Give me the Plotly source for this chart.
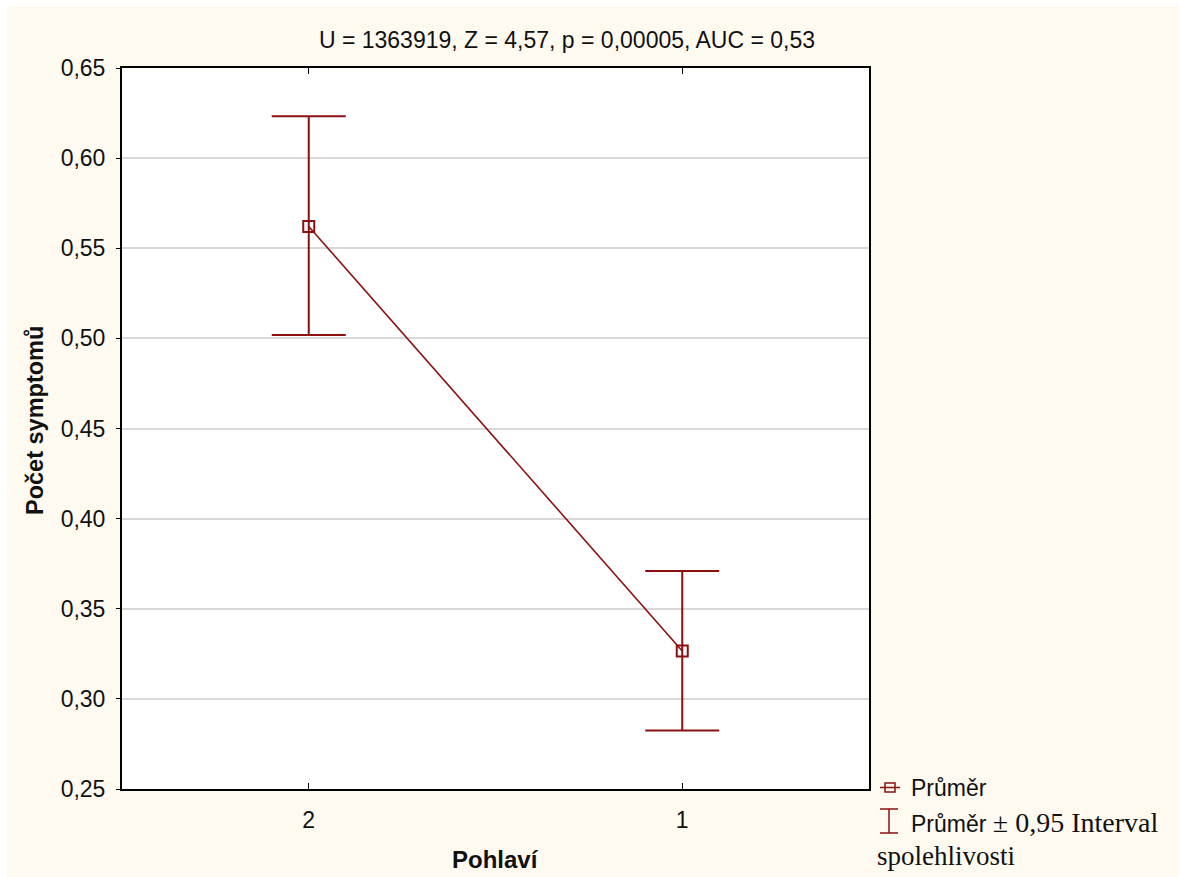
import plotly.graph_objects as go

# Mean symptom count by sex with 95% confidence intervals
categories = ["2", "1"]
means = [0.5621, 0.3266]
ci_lower = [0.5019, 0.2824]
ci_upper = [0.6232, 0.3710]
y_ticks = [0.25, 0.30, 0.35, 0.40, 0.45, 0.50, 0.55, 0.60, 0.65]

title_text = "U = 1363919, Z = 4,57, p = 0,00005, AUC = 0,53"
x_title = "Pohlaví"
y_title = "Počet symptomů"
legend_mean = "Průměr"
legend_ci_sans = "Průměr "
legend_ci_serif = "± 0,95 Interval"
legend_ci_serif2 = "spolehlivosti"

RED = "#8B1111"
BG = "#FEFAF0"
INK = "#111"
SANS = "Liberation Sans, Arial, sans-serif"
SERIF = "Liberation Serif, Times New Roman, serif"
FS = 23

W, H = 1179, 877
ML, MR, MT, MB = 122, W - 869, 68, H - 789
PW, PH = W - ML - MR, H - MT - MB


def px(xpix):
    return (xpix - ML) / PW


def py(ypix):
    return (MT + PH - ypix) / PH


err_plus = [u - m for u, m in zip(ci_upper, means)]
err_minus = [m - l for m, l in zip(means, ci_lower)]

fig = go.Figure()
fig.add_trace(go.Scatter(
    x=categories, y=means, mode="lines+markers",
    line=dict(color=RED, width=1.6),
    marker=dict(symbol="square-open", size=11, color=RED, line=dict(width=2, color=RED)),
    error_y=dict(type="data", symmetric=False, array=err_plus, arrayminus=err_minus,
                 color=RED, thickness=2, width=37),
    showlegend=False,
))

shapes = []
# thin white margin along the top and left edges
shapes.append(dict(type="rect", xref="paper", yref="paper", x0=px(0), x1=px(7), y0=py(0), y1=py(H),
                   fillcolor="white", line=dict(width=0), layer="above"))
shapes.append(dict(type="rect", xref="paper", yref="paper", x0=px(0), x1=px(W), y0=py(0), y1=py(6),
                   fillcolor="white", line=dict(width=0), layer="above"))

# legend glyph: mean marker
shapes.append(dict(type="line", xref="paper", yref="paper", x0=px(880), x1=px(900), y0=py(787.5), y1=py(787.5),
                   line=dict(color=RED, width=1.5)))
shapes.append(dict(type="rect", xref="paper", yref="paper", x0=px(885), x1=px(895), y0=py(783), y1=py(792),
                   line=dict(color=RED, width=1.5), fillcolor="rgba(0,0,0,0)"))
# legend glyph: confidence interval bar
shapes.append(dict(type="line", xref="paper", yref="paper", x0=px(889), x1=px(889), y0=py(809), y1=py(833),
                   line=dict(color=RED, width=1.5)))
shapes.append(dict(type="line", xref="paper", yref="paper", x0=px(880), x1=px(898), y0=py(809), y1=py(809),
                   line=dict(color=RED, width=1.5)))
shapes.append(dict(type="line", xref="paper", yref="paper", x0=px(880), x1=px(898), y0=py(833), y1=py(833),
                   line=dict(color=RED, width=1.5)))

annotations = [
    dict(text=legend_mean, xref="paper", yref="paper", x=px(909), y=py(788), xanchor="left", yanchor="middle",
         showarrow=False, font=dict(family=SANS, size=FS, color=INK)),
    dict(text=f"{legend_ci_sans}<span style='font-family:{SERIF};font-size:28px'>{legend_ci_serif}</span>",
         xref="paper", yref="paper", x=px(909), y=py(822), xanchor="left", yanchor="middle",
         showarrow=False, font=dict(family=SANS, size=FS, color=INK)),
    dict(text=legend_ci_serif2, xref="paper", yref="paper", x=px(875), y=py(856), xanchor="left", yanchor="middle",
         showarrow=False, font=dict(family=SERIF, size=27, color=INK)),
    dict(text=f"<b>{x_title}</b>", xref="paper", yref="paper", x=0.5, y=py(859), xanchor="center",
         yanchor="middle", showarrow=False, font=dict(family=SANS, size=24, color=INK)),
    dict(text=f"<b>{y_title}</b>", xref="paper", yref="paper", x=px(35), y=py(421), xanchor="center",
         yanchor="middle", textangle=-90, showarrow=False, font=dict(family=SANS, size=23.5, color=INK)),
]

fig.update_layout(
    width=W, height=H,
    margin=dict(l=ML, r=MR, t=MT, b=MB, pad=0),
    paper_bgcolor=BG, plot_bgcolor="white",
    separators=", ",
    font=dict(family=SANS, size=FS, color=INK),
    title=dict(text=title_text, x=567 / W, xref="container", xanchor="center",
               y=1 - 40 / H, yref="container", yanchor="middle",
               font=dict(family=SANS, size=FS, color=INK)),
    shapes=shapes,
    annotations=annotations,
    showlegend=False,
)
fig.update_xaxes(
    type="category", range=[-0.5, 1.5],
    showline=True, linecolor="black", linewidth=2, mirror="ticks",
    ticks="inside", ticklen=6, tickwidth=1, tickcolor="black",
    showgrid=False, zeroline=False, ticklabelstandoff=9,
    tickfont=dict(family=SANS, size=FS, color=INK),
)
fig.update_yaxes(
    range=[0.25, 0.65], tickvals=y_ticks, tickformat=".2f",
    showline=True, linecolor="black", linewidth=2, mirror=True,
    ticks="outside", ticklen=4, tickwidth=1, tickcolor="black",
    showgrid=True, gridcolor="#D8D8D8", gridwidth=1.5, zeroline=False,
    ticklabelstandoff=6,
    tickfont=dict(family=SANS, size=FS, color=INK),
)

fig.write_html("out.html")
